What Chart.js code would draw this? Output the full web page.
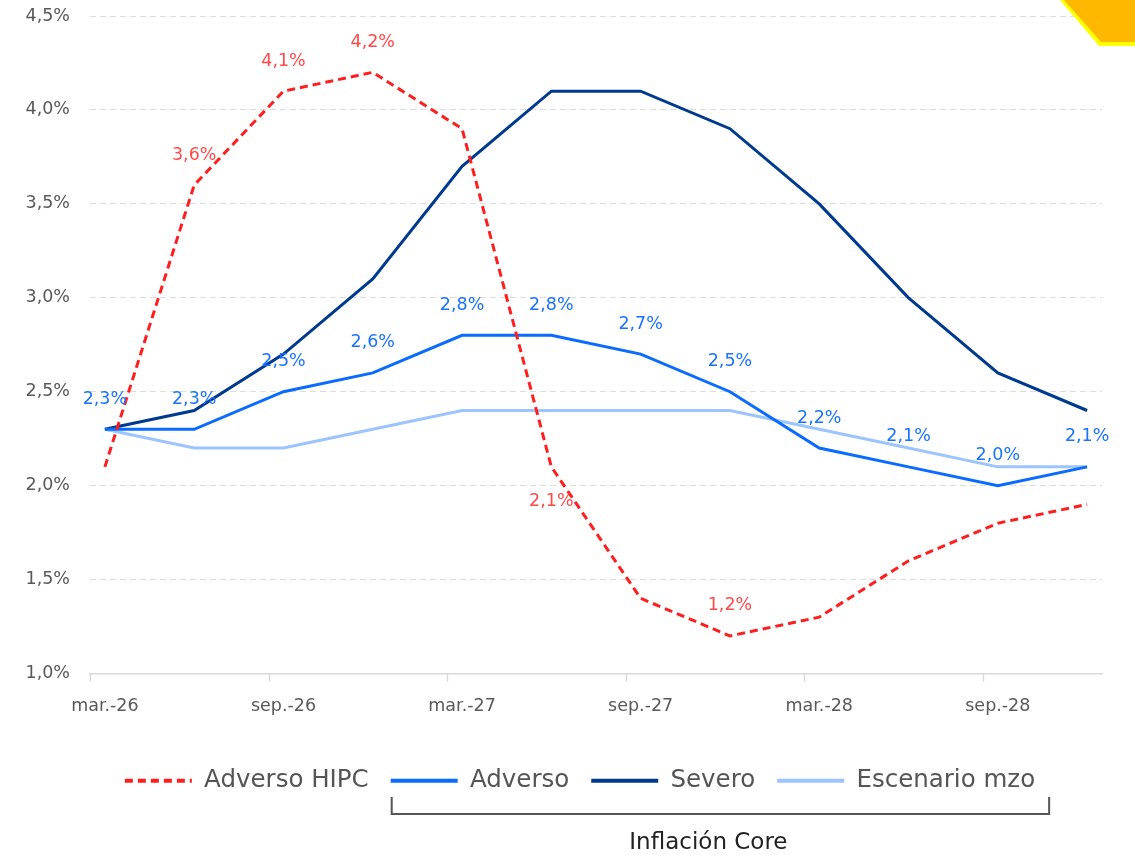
<!DOCTYPE html>
<html>
<head>
<meta charset="utf-8">
<script src="https://cdn.jsdelivr.net/npm/chart.js@4.4.1/dist/chart.umd.min.js"></script>
<style>
  html, body { margin: 0; padding: 0; background: #ffffff; }
  #wrap { width: 1135px; height: 855px; position: relative; }
</style>
</head>
<body>
<div id="wrap"><canvas id="c" width="1135" height="855"></canvas></div>
<script>
// ---- data ----
const categories = ['mar.-26','jun.-26','sep.-26','dic.-26','mar.-27','jun.-27','sep.-27','dic.-27','mar.-28','jun.-28','sep.-28','dic.-28'];
const tickLabels = ['mar.-26','sep.-26','mar.-27','sep.-27','mar.-28','sep.-28'];
const adversoHIPC = [2.1, 3.6, 4.1, 4.2, 3.9, 2.1, 1.4, 1.2, 1.3, 1.6, 1.8, 1.9];
const adverso     = [2.3, 2.3, 2.5, 2.6, 2.8, 2.8, 2.7, 2.5, 2.2, 2.1, 2.0, 2.1];
const severo      = [2.3, 2.4, 2.7, 3.1, 3.7, 4.1, 4.1, 3.9, 3.5, 3.0, 2.6, 2.4];
const escenario   = [2.3, 2.2, 2.2, 2.3, 2.4, 2.4, 2.4, 2.4, 2.3, 2.2, 2.1, 2.1];
// label placement per point: 'a' above, 'b' below, '' none
const hipcLabels    = ['', 'a', 'a', 'a', '', 'b', '', 'a', '', '', '', ''];
const adversoLabels = ['a','a','a','a','a','a','a','a','a','a','a','a'];
const yTicks = [1.0, 1.5, 2.0, 2.5, 3.0, 3.5, 4.0, 4.5];
const bracketGroupLabel = 'Inflación Core';

const FONT = "'DejaVu Sans', sans-serif";
const MONTHS_PER_STEP = 3;
const toPts = arr => arr.map((v, i) => ({ x: i * MONTHS_PER_STEP, y: v }));
const tickMonths = tickLabels.map(l => categories.indexOf(l) * MONTHS_PER_STEP);
const fmt = v => v.toFixed(1).replace('.', ',') + '%';

const valueLabelPlugin = {
  id: 'valueLabels',
  afterDatasetsDraw(chart) {
    const ctx = chart.ctx;
    ctx.save();
    ctx.font = '17.5px ' + FONT;
    ctx.textAlign = 'center';
    ctx.textBaseline = 'middle';
    chart.data.datasets.forEach((ds, di) => {
      if (!ds.valueLabels) return;
      const meta = chart.getDatasetMeta(di);
      ctx.fillStyle = ds.labelColor;
      meta.data.forEach((pt, i) => {
        const pos = ds.valueLabels[i];
        if (!pos) return;
        const y = pos === 'a' ? pt.y - 30 : pt.y + 35;
        ctx.fillText(fmt(ds.data[i].y), pt.x, y);
      });
    });
    ctx.restore();
  }
};

const LEGEND_SHIFT = 58;
const legendShiftPlugin = {
  id: 'legendShift',
  afterLayout(chart) {
    const lg = chart.legend;
    if (!lg) return;
    lg.left += LEGEND_SHIFT;
  }
};

const decorPlugin = {
  id: 'decor',
  afterDraw(chart) {
    const ctx = chart.ctx;
    const xs = chart.scales.x;
    ctx.save();
    // x-axis tick marks (between months)
    ctx.strokeStyle = '#d9d9d9';
    ctx.lineWidth = 1.5;
    const yb = chart.chartArea.bottom;
    [xs.min].concat(tickMonths.slice(1).map(m => m - 0.5)).forEach(m => {
      const px = Math.round(xs.getPixelForValue(m)) + 0.5;
      ctx.beginPath();
      ctx.moveTo(px, yb);
      ctx.lineTo(px, yb + 8);
      ctx.stroke();
    });
    // bracket under core legend items
    const hb = chart.legend.legendHitBoxes;
    if (hb && hb.length >= 4) {
      const left = hb[1].left + 1;
      const right = hb[3].left + hb[3].width + 14;
      const top = hb[1].top + hb[1].height + 4;
      const bottom = top + 17;
      ctx.strokeStyle = '#555555';
      ctx.lineWidth = 2;
      ctx.beginPath();
      ctx.moveTo(left, top);
      ctx.lineTo(left, bottom);
      ctx.lineTo(right, bottom);
      ctx.lineTo(right, top);
      ctx.stroke();
      ctx.fillStyle = '#222222';
      ctx.font = '23px ' + FONT;
      ctx.textAlign = 'center';
      ctx.textBaseline = 'middle';
      ctx.fillText(bracketGroupLabel, (left + right) / 2 - 12, bottom + 29);
    }
    // corner logo fragment
    ctx.fillStyle = '#FFFF00';
    ctx.beginPath();
    ctx.moveTo(1060, 0); ctx.lineTo(1099, 46); ctx.lineTo(1135, 46); ctx.lineTo(1135, 0); ctx.closePath();
    ctx.fill();
    ctx.fillStyle = '#FFB800';
    ctx.beginPath();
    ctx.moveTo(1064, 0); ctx.lineTo(1101, 42); ctx.lineTo(1135, 42); ctx.lineTo(1135, 0); ctx.closePath();
    ctx.fill();
    ctx.restore();
  }
};

new Chart(document.getElementById('c'), {
  type: 'line',
  data: {
    datasets: [
      { label: 'Adverso HIPC', data: toPts(adversoHIPC), borderColor: '#FF1E1E', backgroundColor: '#FF1E1E',
        borderWidth: 3, borderDash: [8, 5], valueLabels: hipcLabels, labelColor: '#FF4A4A', order: 0 },
      { label: 'Adverso', data: toPts(adverso), borderColor: '#0A6BFF', backgroundColor: '#0A6BFF',
        borderWidth: 3, valueLabels: adversoLabels, labelColor: '#1A73FF', order: 1 },
      { label: 'Severo', data: toPts(severo), borderColor: '#003A8F', backgroundColor: '#003A8F',
        borderWidth: 3, order: 2 },
      { label: 'Escenario mzo', data: toPts(escenario), borderColor: '#9CC4FF', backgroundColor: '#9CC4FF',
        borderWidth: 3, order: 3 }
    ]
  },
  options: {
    responsive: false,
    animation: false,
    events: [],
    layout: { padding: { top: 16, right: 33, bottom: 52, left: 0 } },
    elements: { point: { radius: 0 }, line: { tension: 0 } },
    plugins: {
      tooltip: { enabled: false },
      legend: {
        position: 'bottom',
        labels: {
          usePointStyle: true,
          pointStyle: 'line',
          pointStyleWidth: 67,
          color: '#555555',
          font: { family: FONT, size: 24.5 },
          padding: 22,
          generateLabels(chart) {
            return chart.data.datasets.map((ds, i) => ({
              text: ds.label,
              strokeStyle: ds.borderColor,
              fillStyle: ds.borderColor,
              lineWidth: 4,
              lineDash: ds.borderDash || [],
              pointStyle: 'line',
              fontColor: '#555555',
              datasetIndex: i,
              hidden: false
            }));
          }
        }
      }
    },
    scales: {
      x: {
        type: 'linear',
        min: -0.5,
        max: 33.5,
        afterBuildTicks(scale) { scale.ticks = tickMonths.map(v => ({ value: v })); },
        afterFit(scale) { scale.height += 8; },
        ticks: {
          autoSkip: false,
          maxRotation: 0,
          padding: 22,
          color: '#595959',
          font: { family: FONT, size: 17.5 },
          callback(v) { return categories[Math.round(v / MONTHS_PER_STEP)]; }
        },
        grid: { display: false, drawTicks: false },
        border: { display: true, color: '#d9d9d9', width: 1.5 }
      },
      y: {
        min: 1.0,
        max: 4.5,
        afterBuildTicks(scale) { scale.ticks = yTicks.map(v => ({ value: v })); },
        afterFit(scale) { scale.width = 90; scale.paddingTop = 0; scale.paddingBottom = 0; },
        ticks: {
          padding: 20,
          color: '#595959',
          font: { family: FONT, size: 17.5 },
          callback(v) { return fmt(v); }
        },
        grid: { color: '#dcdcdc', lineWidth: 1, drawTicks: false },
        border: { display: false, dash: [6, 4] }
      }
    }
  },
  plugins: [legendShiftPlugin, valueLabelPlugin, decorPlugin]
});
</script>
</body>
</html>
